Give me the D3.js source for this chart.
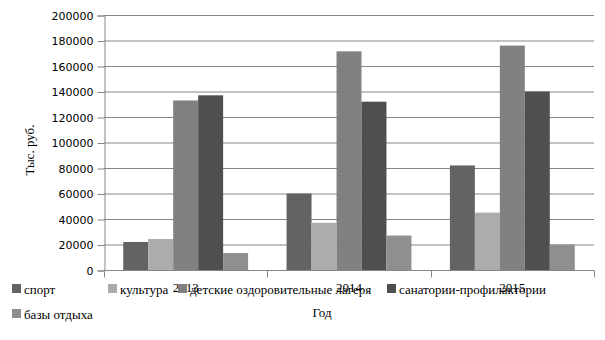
<!DOCTYPE html>
<html>
<head>
<meta charset="utf-8">
<script src="https://cdn.jsdelivr.net/npm/d3@7"></script>
<style>
  body { margin: 0; background: #fff; }
</style>
</head>
<body>
<div id="chart"></div>
<script>
const years = ['2013', '2014', '2015'];
const seriesNames = ['спорт', 'культура', 'детские оздоровительные лагеря', 'санатории-профилактории', 'базы отдыха'];
const sport = [22000, 60000, 82000];
const culture = [24300, 37000, 45000];
const camps = [133000, 171500, 176000];
const sanatoria = [137000, 132000, 140000];
const bases = [13300, 27000, 20000];
const yTicks = [0, 20000, 40000, 60000, 80000, 100000, 120000, 140000, 160000, 180000, 200000];

const series = [sport, culture, camps, sanatoria, bases];
const colors = ['#636363', '#ababab', '#808080', '#4f4f4f', '#8e8e8e'];
const dotted = [false, true, true, false, true];

const width = 605, height = 340;
const margin = { left: 104, right: 11, top: 15, bottom: 70 };

const svg = d3.select('#chart').append('svg')
  .attr('width', width)
  .attr('height', height);

// dot texture like the original
const defs = svg.append('defs');
colors.forEach((c, i) => {
  const p = defs.append('pattern')
    .attr('id', 'pat' + i)
    .attr('width', 4).attr('height', 4)
    .attr('patternUnits', 'userSpaceOnUse');
  p.append('rect').attr('width', 4).attr('height', 4).attr('fill', c);
  if (dotted[i]) {
    p.append('rect').attr('x', 1).attr('y', 1).attr('width', 1).attr('height', 1)
      .attr('fill', d3.color(c).brighter(0.25));
  }
});

const x0 = d3.scaleBand().domain(years)
  .range([margin.left, width - margin.right]);
const x1 = d3.scaleBand().domain(d3.range(series.length))
  .range([0, x0.bandwidth()])
  .paddingOuter(0.77);
const y = d3.scaleLinear().domain([0, 200000])
  .range([height - margin.bottom, margin.top]);

// gridlines
svg.append('g')
  .selectAll('line')
  .data(yTicks)
  .join('line')
  .attr('x1', margin.left)
  .attr('x2', width - margin.right)
  .attr('y1', d => y(d) + 0.5)
  .attr('y2', d => y(d) + 0.5)
  .attr('stroke', '#868686');

// y axis
const yAxis = svg.append('g')
  .attr('transform', `translate(${margin.left + 0.5},0.5)`)
  .call(d3.axisLeft(y).tickValues(yTicks).tickSize(7).tickPadding(4).tickFormat(d3.format('d')));
yAxis.select('.domain').attr('stroke', '#868686');
yAxis.selectAll('.tick line').attr('stroke', '#868686');
yAxis.selectAll('text')
  .attr('font-family', 'DejaVu Sans, Verdana, sans-serif')
  .attr('font-size', '11px')
  .attr('fill', '#000');

// bars
const groups = svg.append('g')
  .selectAll('g')
  .data(years)
  .join('g')
  .attr('transform', d => `translate(${x0(d)},0)`);

groups.selectAll('rect')
  .data((d, j) => series.map((s, i) => ({ i, v: s[j] })))
  .join('rect')
  .attr('x', d => x1(d.i))
  .attr('width', x1.bandwidth())
  .attr('y', d => y(d.v))
  .attr('height', d => y(0) - y(d.v))
  .attr('fill', d => `url(#pat${d.i})`);

// x axis
const xAxisLine = svg.append('g')
  .attr('transform', `translate(0,${y(0) + 0.5})`);
xAxisLine.append('line')
  .attr('x1', margin.left).attr('x2', width - margin.right)
  .attr('stroke', '#868686');
xAxisLine.selectAll('.xt')
  .data(d3.range(years.length + 1))
  .join('line')
  .attr('class', 'xt')
  .attr('x1', i => Math.round(margin.left + i * x0.step()) + 0.5)
  .attr('x2', i => Math.round(margin.left + i * x0.step()) + 0.5)
  .attr('y1', 0).attr('y2', 7)
  .attr('stroke', '#868686');

// year labels
svg.append('g')
  .selectAll('text')
  .data(years)
  .join('text')
  .attr('x', d => x0(d) + x0.bandwidth() / 2)
  .attr('y', 292)
  .attr('text-anchor', 'middle')
  .attr('font-family', 'Liberation Serif, Times New Roman, serif')
  .attr('font-size', '13px')
  .text(d => d);

// axis titles
svg.append('text')
  .attr('x', 322).attr('y', 317)
  .attr('text-anchor', 'middle')
  .attr('font-family', 'Liberation Serif, Times New Roman, serif')
  .attr('font-size', '13px')
  .text('Год');

svg.append('text')
  .attr('transform', 'translate(34,150) rotate(-90)')
  .attr('text-anchor', 'middle')
  .attr('font-family', 'Liberation Serif, Times New Roman, serif')
  .attr('font-size', '13px')
  .text('Тыс. руб.');

// legend
const legendPos = [[12, 289], [108, 289], [178, 289], [387, 289], [12, 314]];
const legend = svg.append('g')
  .selectAll('g')
  .data(seriesNames)
  .join('g')
  .attr('transform', (d, i) => `translate(${legendPos[i][0]},${legendPos[i][1]})`);
legend.append('rect')
  .attr('x', 0).attr('y', -5)
  .attr('width', 9).attr('height', 9)
  .attr('fill', (d, i) => colors[i]);
legend.append('text')
  .attr('x', 12).attr('y', 4.5)
  .attr('font-family', 'Liberation Serif, Times New Roman, serif')
  .attr('font-size', '13px')
  .text(d => d);
</script>
</body>
</html>
